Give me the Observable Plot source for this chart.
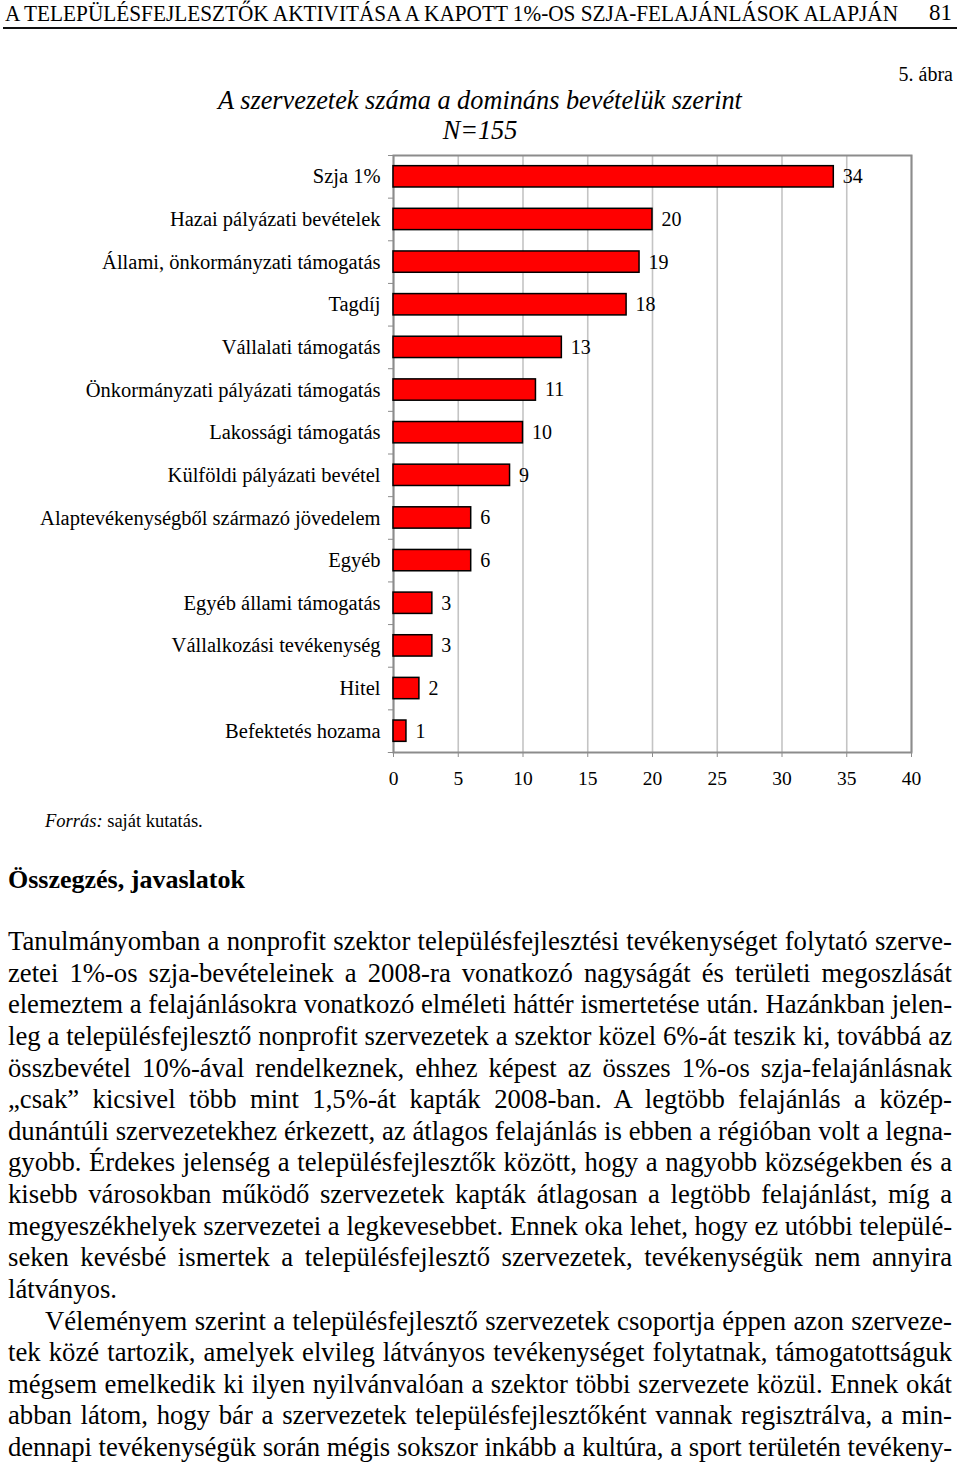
<!DOCTYPE html>
<html>
<head>
<meta charset="utf-8">
<script src="https://cdn.jsdelivr.net/npm/d3@7"></script>
<script src="https://cdn.jsdelivr.net/npm/@observablehq/plot@0.6"></script>
<style>
  html, body { margin: 0; padding: 0; background: #fff; }
  body { width: 960px; height: 1465px; position: relative; overflow: hidden; font-family: "Liberation Serif", "DejaVu Serif", serif; color: #000; }
  .abs { position: absolute; white-space: nowrap; }
  #header { left: 5px; top: -1px; font-size: 24px; line-height: 28px; transform-origin: 0 0; }
  #pageno { right: 8px; top: -1px; font-size: 23px; line-height: 28px; }
  #rule { position: absolute; left: 3px; width: 954px; top: 27px; height: 2px; background: #111; }
  #fig { right: 7px; top: 62px; font-size: 20px; line-height: 24px; }
  #title { left: 0; width: 960px; text-align: center; top: 86px; font-size: 26.3px; line-height: 30px; font-style: italic; }
  #n { left: 0; width: 960px; text-align: center; top: 116px; font-size: 26.3px; line-height: 30px; font-style: italic; }
  #chart { position: absolute; left: 0; top: 145px; }
  #source { left: 45px; top: 810px; font-size: 18.5px; line-height: 22px; }
  #heading { left: 8px; top: 864px; font-size: 26px; line-height: 32px; font-weight: bold; }
  #body { position: absolute; left: 8px; top: 926px; width: 944px; font-size: 26.7px; line-height: 31.625px; }
  #body div { text-align: justify; text-align-last: justify; }
  #body div.last { text-align-last: left; }
  #body div.indent { padding-left: 37px; }
</style>
</head>
<body>
<div class="abs" id="header">A TELEPÜLÉSFEJLESZTŐK AKTIVITÁSA A KAPOTT 1%-OS SZJA-FELAJÁNLÁSOK ALAPJÁN</div>
<div class="abs" id="pageno">81</div>
<div id="rule"></div>
<div class="abs" id="fig">5. ábra</div>
<div class="abs" id="title">A szervezetek száma a domináns bevételük szerint</div>
<div class="abs" id="n">N=155</div>
<div id="chart"></div>
<div class="abs" id="source"><i>Forrás:</i> saját kutatás.</div>
<div class="abs" id="heading">Összegzés, javaslatok</div>
<div id="body"></div>
<script>
// ---- data ----
const categories = [
  "Szja 1%",
  "Hazai pályázati bevételek",
  "Állami, önkormányzati támogatás",
  "Tagdíj",
  "Vállalati támogatás",
  "Önkormányzati pályázati támogatás",
  "Lakossági támogatás",
  "Külföldi pályázati bevétel",
  "Alaptevékenységből származó jövedelem",
  "Egyéb",
  "Egyéb állami támogatás",
  "Vállalkozási tevékenység",
  "Hitel",
  "Befektetés hozama"
];
const values = [34, 20, 19, 18, 13, 11, 10, 9, 6, 6, 3, 3, 2, 1];
const xTicks = [0, 5, 10, 15, 20, 25, 30, 35, 40];

const bodyLines = [
  "Tanulmányomban a nonprofit szektor településfejlesztési tevékenységet folytató szerve-",
  "zetei 1%-os szja-bevételeinek a 2008-ra vonatkozó nagyságát és területi megoszlását",
  "elemeztem a felajánlásokra vonatkozó elméleti háttér ismertetése után. Hazánkban jelen-",
  "leg a településfejlesztő nonprofit szervezetek a szektor közel 6%-át teszik ki, továbbá az",
  "összbevétel 10%-ával rendelkeznek, ehhez képest az összes 1%-os szja-felajánlásnak",
  "„csak” kicsivel több mint 1,5%-át kapták 2008-ban. A legtöbb felajánlás a közép-",
  "dunántúli szervezetekhez érkezett, az átlagos felajánlás is ebben a régióban volt a legna-",
  "gyobb. Érdekes jelenség a településfejlesztők között, hogy a nagyobb községekben és a",
  "kisebb városokban működő szervezetek kapták átlagosan a legtöbb felajánlást, míg a",
  "megyeszékhelyek szervezetei a legkevesebbet. Ennek oka lehet, hogy ez utóbbi települé-",
  "seken kevésbé ismertek a településfejlesztő szervezetek, tevékenységük nem annyira",
  "látványos.",
  "Véleményem szerint a településfejlesztő szervezetek csoportja éppen azon szerveze-",
  "tek közé tartozik, amelyek elvileg látványos tevékenységet folytatnak, támogatottságuk",
  "mégsem emelkedik ki ilyen nyilvánvalóan a szektor többi szervezete közül. Ennek okát",
  "abban látom, hogy bár a szervezetek településfejlesztőként vannak regisztrálva, a min-",
  "dennapi tevékenységük során mégis sokszor inkább a kultúra, a sport területén tevékeny-"
];

// ---- chart ----
const data = categories.map((c, i) => ({category: c, value: values[i]}));
const W = 960, H = 647, mT = 10, mB = 40, mL = 393, mR = 49;
const step = (H - mT - mB) / categories.length;

const chart = Plot.plot({
  width: W,
  height: H,
  marginLeft: mL,
  marginRight: mR,
  marginTop: mT,
  marginBottom: mB,
  style: {fontFamily: "'Liberation Serif', serif", fontSize: "19px", color: "#000", background: "transparent", overflow: "visible"},
  x: {domain: [0, 40], ticks: xTicks},
  y: {domain: categories, paddingInner: 0.5, paddingOuter: 0.25, round: false},
  marks: [
    Plot.gridX(xTicks, {stroke: "#c4c4c4", strokeWidth: 1.6, strokeOpacity: 1}),
    Plot.frame({stroke: "#8c8c8c", strokeWidth: 2}),
    Plot.barX(data, {x: "value", y: "category", fill: "#ff0000", stroke: "#000", strokeWidth: 1.5}),
    Plot.text(data, {x: "value", y: "category", text: d => String(d.value), textAnchor: "start", dx: 9, fontSize: 20, fill: "#000"}),
    Plot.axisX({ticks: xTicks, tickSize: 5, tickPadding: 14, stroke: "#8c8c8c", fontSize: 19.5, label: null}),
    Plot.axisY({tickSize: 0, tickPadding: 13, fontSize: 20.5, label: null}),
    Plot.axisY({text: null, tickSize: 5, dy: -step / 2, stroke: "#8c8c8c", label: null}),
    Plot.ruleY([categories[categories.length - 1]], {x1: -0.4, x2: 0, dy: step / 2, stroke: "#8c8c8c"})
  ]
});
document.getElementById("chart").appendChild(chart);

// ---- body text: one justified line per printed line ----
const body = document.getElementById("body");
bodyLines.forEach((t, i) => {
  const d = document.createElement("div");
  const s = document.createElement("span");
  s.textContent = t;
  d.appendChild(s);
  if (i === 11) d.className = "last";
  if (i === 12) d.className = "indent";
  body.appendChild(d);
  // squeeze a line only if it would not fit on one printed line
  d.style.whiteSpace = "nowrap";
  d.style.textAlignLast = "left";
  const avail = d.clientWidth - (i === 12 ? 37 : 0);
  const wNat = s.getBoundingClientRect().width;
  if (wNat > avail - 2) {
    s.style.letterSpacing = ((avail - 2 - wNat) / t.length) + "px";
  }
  d.style.whiteSpace = "";
  d.style.textAlignLast = "";
});

// ---- header condensed to its printed width ----
const hdr = document.getElementById("header");
const w = hdr.getBoundingClientRect().width;
hdr.style.transform = `scaleX(${893 / w})`;
</script>
</body>
</html>
